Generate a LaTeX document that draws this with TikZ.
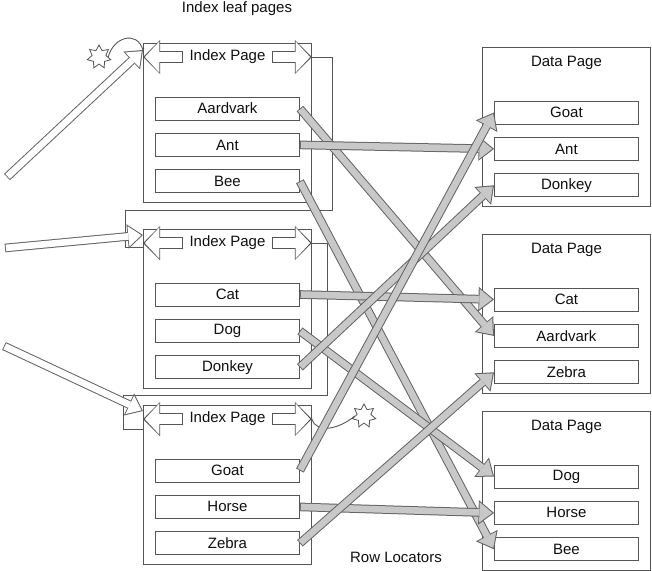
\documentclass[tikz,border=0pt]{standalone}
\usepackage{fontspec}
\setmainfont{Liberation Sans}
\usetikzlibrary{arrows.meta,positioning,shapes.geometric,calc}
\definecolor{edge}{RGB}{85,85,85}
\definecolor{rowfill}{RGB}{200,200,200}
\definecolor{rowline}{RGB}{100,100,100}
\definecolor{ink}{RGB}{15,15,15}
\newcommand\boxfont{\fontsize{15pt}{18pt}\selectfont}
\tikzset{
  page/.style={draw=edge,line width=0.9pt,minimum width=168,minimum height=159,
    anchor=north west,inner sep=0pt},
  row/.style={draw=edge,line width=0.9pt,fill=white,minimum width=144,minimum height=23,
    inner sep=0pt,font=\boxfont,text=ink},
  title/.style={inner sep=6pt,font=\boxfont,text=ink},
  link/.style={draw=edge,line width=0.9pt},
  nil/.style={star,star points=7,star point ratio=1.7,draw=edge,fill=white,
    line width=0.8pt,minimum size=24,inner sep=0pt},
  % fat arrow with a thin outline
  fat/.style={draw=#1,line width=6.6pt,shorten <=0.9pt,shorten >=1.7pt,
    -{Triangle[length=12.9pt,width=20.5pt,line width=0pt]},
    preaction={draw=rowline,line width=8.6pt,shorten <=0pt,shorten >=0pt,
      -{Triangle[length=15.5pt,width=24.5pt,line width=0pt]}}},
  fat/.default=rowfill,
  pagetip/.style={draw=white,line width=10.6pt,shorten <=1pt,shorten >=1.8pt,
    -{Triangle[length=14.6pt,width=31.2pt,line width=0pt]},
    preaction={draw=edge,line width=12.6pt,shorten <=0pt,shorten >=0pt,
      -{Triangle[length=17pt,width=34pt,line width=0pt]}}},
}
\begin{document}
\begin{tikzpicture}[x=1pt,y=-1pt]
  \useasboundingbox (0,0) rectangle (652,570);
  % index leaf pages
  \node[page] (ip1) at (143,43) {};
  \node[page] (ip2) at (143,229) {};
  \node[page] (ip3) at (143,405) {};
  \node[title] (ip1t) at ([yshift=-14pt]ip1.north) {Index Page};
  \node[title] (ip2t) at ([yshift=-14pt]ip2.north) {Index Page};
  \node[title] (ip3t) at ([yshift=-14pt]ip3.north) {Index Page};
  \node[row] (aard) at ([yshift=-65.5pt]ip1.north) {Aardvark};
  \node[row,below=12.5pt of aard] (ant) {Ant};
  \node[row,below=12.5pt of ant] (bee) {Bee};
  \node[row] (cat) at ([yshift=-65.5pt]ip2.north) {Cat};
  \node[row,below=12.5pt of cat] (dog) {Dog};
  \node[row,below=12.5pt of dog] (donkey) {Donkey};
  \node[row] (goat) at ([yshift=-65.5pt]ip3.north) {Goat};
  \node[row,below=12.5pt of goat] (horse) {Horse};
  \node[row,below=12.5pt of horse] (zebra) {Zebra};
  % data pages
  \node[page] (dp1) at (482,47) {};
  \node[page] (dp2) at (482,234) {};
  \node[page] (dp3) at (482,411) {};
  \node[title] (dp1t) at ([yshift=-16pt]dp1.north) {Data Page};
  \node[title] (dp2t) at ([yshift=-16pt]dp2.north) {Data Page};
  \node[title] (dp3t) at ([yshift=-16pt]dp3.north) {Data Page};
  \node[row] (dgoat) at ([yshift=-65.5pt]dp1.north) {Goat};
  \node[row,below=12.5pt of dgoat] (dant) {Ant};
  \node[row,below=12.5pt of dant] (ddonkey) {Donkey};
  \node[row] (dcat) at ([yshift=-65.5pt]dp2.north) {Cat};
  \node[row,below=12.5pt of dcat] (daard) {Aardvark};
  \node[row,below=12.5pt of daard] (dzebra) {Zebra};
  \node[row] (ddog) at ([yshift=-65.5pt]dp3.north) {Dog};
  \node[row,below=12.5pt of ddog] (dhorse) {Horse};
  \node[row,below=12.5pt of dhorse] (dbee) {Bee};
  \node[title] (hdr) at (237,9) {Index leaf pages};
  \node[title] (rowloc) at (396,557) {Row Locators};
  % page chain
  \draw[link] (ip1t -| ip1.east) -- ++(21,0) |- ($(ip1.south west)+(-18,8)$)
    |- ($(ip2t -| ip2.west)+(0,4)$);
  \draw[link] (ip2t -| ip2.east) -- ++(16,0) |- ($(ip2.south west)+(-20,7)$)
    |- ($(ip3t -| ip3.west)+(0,10)$);
  \node[nil] (nil1) at (99,57) {};
  \node[nil] (nil2) at (364,416) {};
  \draw[link] (nil1.east) .. controls +(5,-20) and +(-6,-20) .. ($(ip1t -| ip1.west)+(0,-7)$);
  \draw[link] (ip3t -| ip3.east) .. controls +(5,16) and +(-14,12) .. (nil2.west);
  \foreach \n in {1,2,3} {
    \draw[pagetip] (ip\n t.west) -- (ip\n t.west -| ip\n.west);
    \draw[pagetip] (ip\n t.east) -- (ip\n t.east -| ip\n.east);
  }
  % pointers from the level above
  \coordinate (up1) at (7,177);
  \coordinate (up2) at (5,248);
  \coordinate (up3) at (4,346);
  \draw[fat=white] (up1) -- ($(ip1t -| ip1.west)+(0,-7)$);
  \draw[fat=white] (up2) -- ($(ip2t -| ip2.west)+(0,-8)$);
  \draw[fat=white] (up3) -- ($(ip3t -| ip3.west)+(0,-8)$);
  % row locators
  \draw[fat] (aard.east) -- (daard.west);
  \draw[fat] (ant.east) -- (dant.west);
  \draw[fat] (bee.east) -- (dbee.west);
  \draw[fat] (cat.east) -- (dcat.west);
  \draw[fat] (dog.east) -- (ddog.west);
  \draw[fat] (donkey.east) -- (ddonkey.west);
  \draw[fat] (goat.east) -- (dgoat.west);
  \draw[fat] (horse.east) -- (dhorse.west);
  \draw[fat] (zebra.east) -- (dzebra.west);
\end{tikzpicture}
\end{document}
